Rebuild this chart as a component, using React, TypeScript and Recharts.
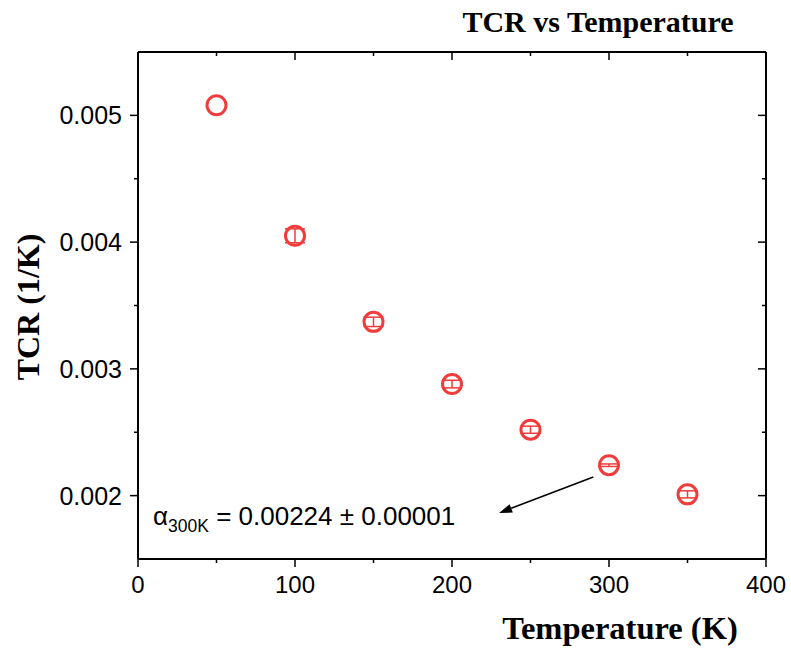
import React from 'react';
import {
  ScatterChart,
  Scatter,
  XAxis,
  YAxis,
  ErrorBar,
  ReferenceLine,
} from 'recharts';

// measured TCR per temperature, with the fit uncertainty for each point
const temperatures = [50, 100, 150, 200, 250, 300, 350];
const tcrValues = [0.00508, 0.00405, 0.003371, 0.00288, 0.00252, 0.00224, 0.00201];
const tcrErrors = [0, 0.000055, 0.000037, 0.00003, 0.000028, 0.00001, 0.000028];

const xTicks = [0, 50, 100, 150, 200, 250, 300, 350, 400];
const yTicks = [0.002, 0.0025, 0.003, 0.0035, 0.004, 0.0045, 0.005];

// arrow pointing from the 300 K point towards the annotation
const arrowFrom = { x: 290, y: 0.002147 };
const arrowTo = { x: 230, y: 0.001863 };

const RED = '#f03c3c';
const SANS = "'Liberation Sans', Arial, sans-serif";
const SERIF = "'Liberation Serif', 'Times New Roman', serif";

const W = 791;
const H = 653;

const data = temperatures.map((t, i) => ({ t, tcr: tcrValues[i], err: tcrErrors[i] }));

const onStep = (v: number, step: number) => Math.abs(v / step - Math.round(v / step)) < 1e-6;

const BottomTick = ({ x, y, payload }: any) => {
  const major = onStep(payload.value, 100);
  return (
    <g>
      <line x1={x} y1={y} x2={x} y2={y + (major ? 8 : 4)} stroke="#000" strokeWidth={1.5} />
      {major && (
        <text x={x} y={y + 34} textAnchor="middle" fontSize={24} fontFamily={SANS} fill="#000">
          {payload.value}
        </text>
      )}
    </g>
  );
};

// top frame: ticks point down into the plot
const TopTick = ({ x, y, payload }: any) => {
  const major = onStep(payload.value, 100);
  return <line x1={x} y1={y} x2={x} y2={y + (major ? 8 : 4)} stroke="#000" strokeWidth={1.5} />;
};

const LeftTick = ({ x, y, payload }: any) => {
  const major = onStep(payload.value, 0.001);
  return (
    <g>
      <line x1={x} y1={y} x2={x - (major ? 8 : 4)} y2={y} stroke="#000" strokeWidth={1.5} />
      {major && (
        <text x={x - 16} y={y + 9} textAnchor="end" fontSize={25} fontFamily={SANS} fill="#000">
          {payload.value.toFixed(3)}
        </text>
      )}
    </g>
  );
};

// right frame: ticks point left into the plot
const RightTick = ({ x, y, payload }: any) => {
  const major = onStep(payload.value, 0.001);
  return <line x1={x} y1={y} x2={x - (major ? 8 : 4)} y2={y} stroke="#000" strokeWidth={1.5} />;
};

const OpenCircle = ({ cx, cy }: any) => (
  <circle cx={cx} cy={cy} r={9.5} fill="none" stroke={RED} strokeWidth={3} />
);

const Nothing = () => <g />;

const Arrow = ({ x1, y1, x2, y2 }: any) => {
  const ang = Math.atan2(y2 - y1, x2 - x1);
  const len = 13;
  const half = 4.5;
  const bx = x2 - len * Math.cos(ang);
  const by = y2 - len * Math.sin(ang);
  const px = -Math.sin(ang) * half;
  const py = Math.cos(ang) * half;
  return (
    <g>
      <line x1={x1} y1={y1} x2={bx} y2={by} stroke="#000" strokeWidth={1.6} />
      <polygon points={`${x2},${y2} ${bx + px},${by + py} ${bx - px},${by - py}`} fill="#000" />
    </g>
  );
};

const axisLine = { stroke: '#000', strokeWidth: 2 };

export default function App() {
  return (
    <div style={{ position: 'relative', width: W, height: H, background: '#fff' }}>
      <style>{'body{margin:0}'}</style>
      <ScatterChart width={W} height={H} margin={{ top: 51, right: 24, bottom: 34, left: 0 }}>
        <XAxis
          xAxisId="b"
          dataKey="t"
          type="number"
          domain={[0, 400]}
          ticks={xTicks}
          interval={0}
          height={60}
          tickSize={0}
          tickMargin={0}
          tickLine={false}
          axisLine={axisLine}
          tick={(p: any) => <BottomTick {...p} />}
        />
        <XAxis
          xAxisId="t"
          orientation="top"
          dataKey="t"
          type="number"
          domain={[0, 400]}
          ticks={xTicks}
          interval={0}
          height={1}
          tickSize={0}
          tickMargin={0}
          tickLine={false}
          axisLine={axisLine}
          tick={(p: any) => <TopTick {...p} />}
        />
        <YAxis
          yAxisId="l"
          dataKey="tcr"
          type="number"
          domain={[0.0015, 0.0055]}
          ticks={yTicks}
          interval={0}
          width={138}
          tickSize={0}
          tickMargin={0}
          tickLine={false}
          axisLine={axisLine}
          tick={(p: any) => <LeftTick {...p} />}
        />
        <YAxis
          yAxisId="r"
          orientation="right"
          dataKey="tcr"
          type="number"
          domain={[0.0015, 0.0055]}
          ticks={yTicks}
          interval={0}
          width={1}
          tickSize={0}
          tickMargin={0}
          tickLine={false}
          axisLine={axisLine}
          tick={(p: any) => <RightTick {...p} />}
        />
        <ReferenceLine
          xAxisId="b"
          yAxisId="l"
          segment={[arrowFrom, arrowTo]}
          shape={(p: any) => <Arrow {...p} />}
        />
        {/* binds the mirrored frame axes so they get drawn */}
        <Scatter
          xAxisId="t"
          yAxisId="r"
          data={data}
          dataKey="tcr"
          shape={() => <Nothing />}
          isAnimationActive={false}
        />
        <Scatter
          xAxisId="b"
          yAxisId="l"
          data={data}
          dataKey="tcr"
          shape={(p: any) => <OpenCircle {...p} />}
          isAnimationActive={false}
        >
          <ErrorBar
            dataKey="err"
            direction="y"
            width={10}
            stroke={RED}
            strokeWidth={1.5}
            isAnimationActive={false}
          />
        </Scatter>
      </ScatterChart>
      <svg
        width={W}
        height={H}
        style={{ position: 'absolute', left: 0, top: 0, pointerEvents: 'none' }}
      >
        <text x={598} y={32} textAnchor="middle" fontSize={30} fontWeight="bold" fontFamily={SERIF} fill="#000">
          TCR vs Temperature
        </text>
        <text x={620} y={639} textAnchor="middle" fontSize={32.5} fontWeight="bold" fontFamily={SERIF} fill="#000">
          Temperature (K)
        </text>
        <text
          x={0}
          y={0}
          transform="translate(38.5,307) rotate(-90)"
          textAnchor="middle"
          fontSize={32}
          fontWeight="bold"
          fontFamily={SERIF}
          fill="#000"
        >
          TCR (1/K)
        </text>
        <text x={153} y={525} fontSize={26} fontFamily={SANS} fill="#000">
          α
          <tspan fontSize={17.5} dy={7}>300K</tspan>
          <tspan dy={-7}> = 0.00224 ± 0.00001</tspan>
        </text>
      </svg>
    </div>
  );
}
